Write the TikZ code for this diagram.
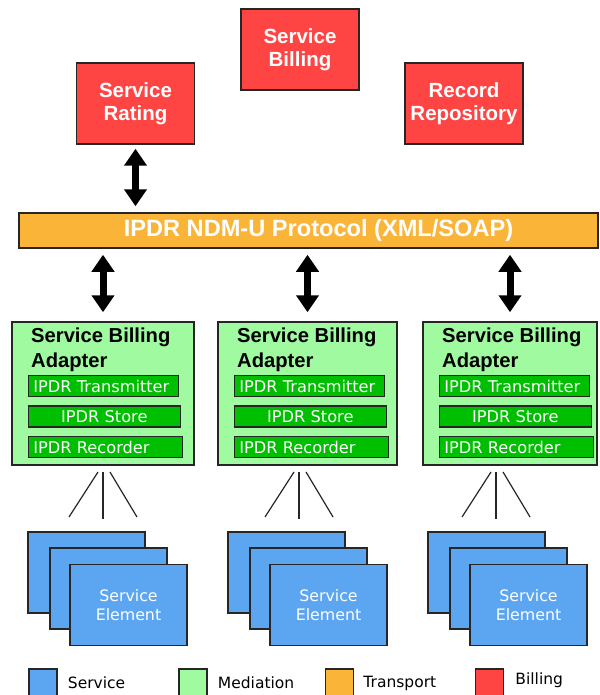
\documentclass[tikz,border=0pt]{standalone}
\usepackage{fontspec}
\setmainfont{Liberation Sans}
\newfontfamily\dvs{DejaVu Sans}
\usetikzlibrary{arrows.meta,positioning}

\definecolor{billred}{HTML}{FF4444}
\definecolor{transorange}{HTML}{FAB437}
\definecolor{mediagreen}{HTML}{A0FAA0}
\definecolor{ipdrgreen}{HTML}{00BE00}
\definecolor{serviceblue}{HTML}{5CA5F0}
\definecolor{edgegray}{HTML}{262626}

\tikzset{
  billing/.style={draw=edgegray,line width=1.5pt,fill=billred,
    minimum width=118pt,minimum height=81pt,inner sep=0pt,
    text=white,align=center,font=\fontsize{20.5}{23}\selectfont\bfseries},
  transport/.style={draw=edgegray,line width=1.5pt,fill=transorange,
    minimum width=579pt,minimum height=35pt,inner sep=0pt},
  adapter/.style={draw=edgegray,line width=1.5pt,fill=mediagreen,
    minimum height=143pt,inner sep=0pt},
  title/.style={anchor=base west,inner sep=0pt,align=left,
    font=\fontsize{20.2}{25}\selectfont\bfseries},
  inbar/.style={draw=edgegray,line width=1.5pt,fill=ipdrgreen,anchor=west,
    minimum height=21pt,inner xsep=5pt,inner ysep=0pt,text=white,
    font=\dvs\fontsize{16.2}{18}\selectfont},
  element/.style={draw=edgegray,line width=1.5pt,fill=serviceblue,
    minimum width=117pt,minimum height=81pt,inner sep=0pt,
    text=white,align=center,font=\dvs\fontsize{15.8}{19}\selectfont},
  legendbox/.style={draw=edgegray,line width=1.5pt,minimum size=28pt,inner sep=0pt},
  legendtext/.style={inner sep=0pt,font=\dvs\fontsize{15.5}{18}\selectfont},
  fan/.style={draw=edgegray,line width=1.2pt},
  link/.style={line width=7pt,<->}
}

\begin{document}
\begin{tikzpicture}[x=1pt,y=-1pt,>={Triangle[width=22pt,length=17pt]}]
\useasboundingbox (0,0) rectangle (599,695);

% ------------------------------------------------------------------
% Billing systems at the top
% ------------------------------------------------------------------
\node[billing] (billing) at (300,49.5) {Service\\Billing};
\node[billing] (rating)  at (135.5,103.5) {Service\\Rating};
\node[billing] (repo)    at (464,103.5) {Record\\Repository};

% ------------------------------------------------------------------
% Transport bar
% ------------------------------------------------------------------
\node[transport,label={[xshift=10pt,text=white,
    font=\fontsize{23.6}{26}\selectfont\bfseries]center:IPDR NDM-U Protocol (XML/SOAP)}]
  (bar) at (308.5,230.5) {};

\draw[link,shorten <=4pt,shorten >=6pt] (rating.south) -- (rating.south |- bar.north);

% ------------------------------------------------------------------
% Service billing adapters (mediation)
% ------------------------------------------------------------------
\foreach \i/\x/\w in {1/12/182, 2/218/179, 3/423/174}{
  \node[adapter,minimum width=\w pt] (sba\i) at ({\x+\w/2},393.5) {};
  \node[title] (sbat\i) at (\x+19,367) {Service Billing\\Adapter};
  \node[inbar,text width=140pt,align=left]   (tx\i)  at (\x+15.5,386)   {IPDR Transmitter};
  \node[inbar,text width=142pt,align=center] (st\i)  at (\x+15.5,416.5) {IPDR Store};
  \node[inbar,text width=144pt,align=left]   (rec\i) at (\x+15.5,447)   {IPDR Recorder};
  \draw[link,shorten <=6pt,shorten >=9pt] (sba\i.north |- bar.south) -- (sba\i.north);
}

% ------------------------------------------------------------------
% Service elements with the fan of links above them
% ------------------------------------------------------------------
\foreach \i/\g/\c in {1/0/103, 2/200/299, 3/400/496}{
  \node[element] (seA\i) at (86.5+\g,572.5) {};
  \node[element] (seB\i) at (108.5+\g,588.5) {};
  \node[element] (seC\i) at (128.5+\g,605) {Service\\Element};
  \coordinate (ft\i) at (\c,472);
  \coordinate (fb\i) at (\c,519);
  \draw[fan] ([xshift=-5pt]ft\i) -- ([xshift=-34pt,yshift=2pt]fb\i);
  \draw[fan] (ft\i) -- (fb\i);
  \draw[fan] ([xshift=7pt]ft\i) -- ([xshift=34pt,yshift=2pt]fb\i);
}

% ------------------------------------------------------------------
% Legend
% ------------------------------------------------------------------
\node[legendbox,fill=serviceblue] (lg1) at (43,683) {};
\node[legendbox,fill=mediagreen]  (lg2) at (193,683) {};
\node[legendbox,fill=transorange] (lg3) at (339.5,683) {};
\node[legendbox,fill=billred]     (lg4) at (489.5,683) {};
\node[legendtext,right=10pt of lg1] (lt1) {Service};
\node[legendtext,right=10pt of lg2] (lt2) {Mediation};
\node[legendtext,right=9pt of lg3]  (lt3) {Transport};
\node[legendtext,right=11pt of lg4,yshift=3pt] (lt4) {Billing};

\end{tikzpicture}
\end{document}
